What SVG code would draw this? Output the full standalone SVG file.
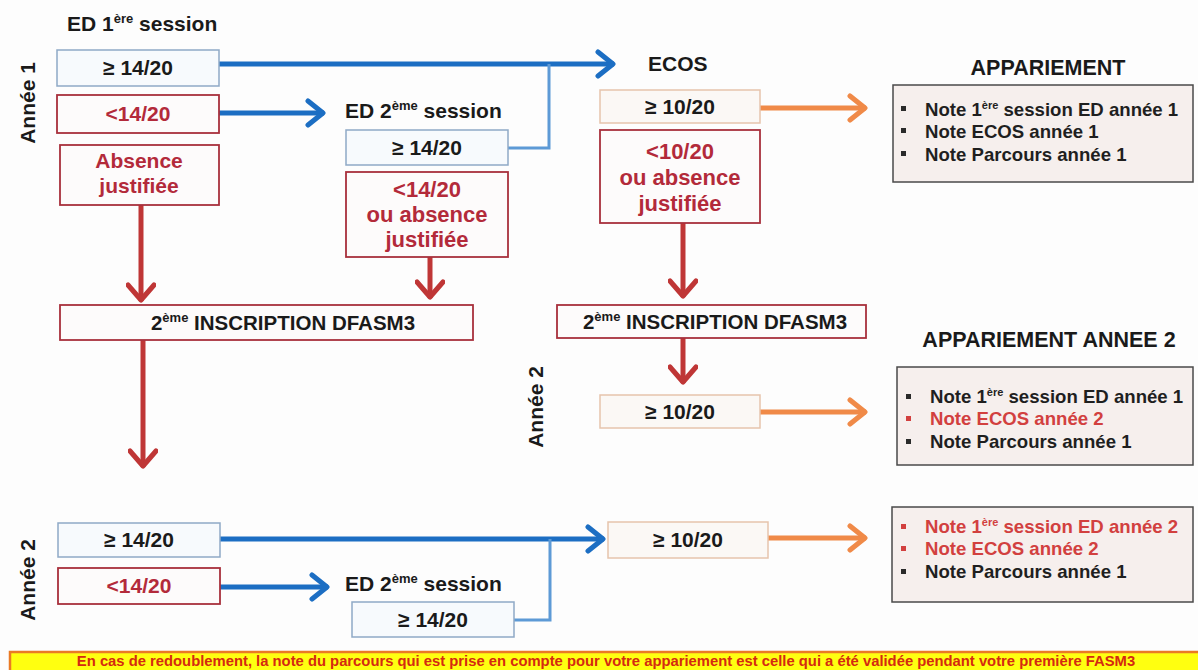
<svg xmlns="http://www.w3.org/2000/svg" width="1198" height="670" viewBox="0 0 1198 670">
<defs>
<style>
text{font-family:"Liberation Sans",Arial,sans-serif;font-weight:bold}
.lbl{font-size:21px;fill:#1a1a1a}
.lblr{font-size:21px;fill:#b32a3a}
.big{font-size:22px}
.ctr{text-anchor:middle}
.bb{fill:#f7fafd;stroke:#8fa9c6;stroke-width:1.5}
.rb{fill:#fdfbfb;stroke:#a8303c;stroke-width:1.8}
.ob{fill:#fbf8f5;stroke:#e6c4ac;stroke-width:1.5}
.ap{fill:#f6efed;stroke:#4a4a4a;stroke-width:1.5}
.note{font-size:18.6px;fill:#1f1f1f}
.noter{font-size:18.6px;fill:#d2403f}
.bul{fill:#2a2a2a}
.bulr{fill:#d2403f}
.blue{stroke:#1c6ec3;stroke-width:5;fill:none}
.lblue{stroke:#5d9ad6;stroke-width:3;fill:none}
.red{stroke:#bf3636;stroke-width:5;fill:none}
.orange{stroke:#f08a48;stroke-width:5;fill:none}
.title{font-size:21.5px;fill:#1a1a1a}
.vert{font-size:21px;fill:#1a1a1a;text-anchor:middle}
.ins{font-size:20.5px;fill:#1a1a1a;text-anchor:middle}
</style>
<marker id="mb" markerUnits="userSpaceOnUse" markerWidth="30" markerHeight="30" refX="22" refY="15" orient="auto" viewBox="0 0 30 30">
<path d="M6,3 L21,15 L6,27" fill="none" stroke="#1c6ec3" stroke-width="5" stroke-linecap="round" stroke-linejoin="round"/>
</marker>
<marker id="mr" markerUnits="userSpaceOnUse" markerWidth="30" markerHeight="30" refX="22" refY="15" orient="auto" viewBox="0 0 30 30">
<path d="M6,2 L21,15 L6,28" fill="none" stroke="#bf3636" stroke-width="5" stroke-linecap="round" stroke-linejoin="round"/>
</marker>
<marker id="mo" markerUnits="userSpaceOnUse" markerWidth="30" markerHeight="30" refX="22" refY="15" orient="auto" viewBox="0 0 30 30">
<path d="M6,3 L21,15 L6,27" fill="none" stroke="#f08a48" stroke-width="5" stroke-linecap="round" stroke-linejoin="round"/>
</marker>
</defs>
<rect x="0" y="0" width="1198" height="670" fill="#fdfdfd"/>

<g id="connectors">
<path class="blue" d="M219,64 L614,64" marker-end="url(#mb)"/>
<path class="blue" d="M219,113 L324,113" marker-end="url(#mb)"/>
<path class="lblue" d="M508,148 L549,148 L549,64"/>
<path class="orange" d="M760,108 L866,108" marker-end="url(#mo)"/>
<path class="red" d="M141,205 L141,301" marker-end="url(#mr)"/>
<path class="red" d="M430,257 L430,298" marker-end="url(#mr)"/>
<path class="red" d="M683,223 L683,297" marker-end="url(#mr)"/>
<path class="red" d="M143,340 L143,467" marker-end="url(#mr)"/>
<path class="red" d="M683,338 L683,383" marker-end="url(#mr)"/>
<path class="orange" d="M760,412 L866,412" marker-end="url(#mo)"/>
<path class="blue" d="M220,539 L604,539" marker-end="url(#mb)"/>
<path class="blue" d="M220,587 L328,587" marker-end="url(#mb)"/>
<path class="lblue" d="M514,620 L550,620 L550,539"/>
<path class="orange" d="M768,538 L866,538" marker-end="url(#mo)"/>
</g>

<g id="annee1">
<text class="vert" transform="translate(35,103) rotate(-90)">Année 1</text>
</g>
<g id="ed1-title">
<text class="lbl" x="67" y="31">ED 1<tspan font-size="13" dy="-8">ère</tspan><tspan dy="8"> session</tspan></text>
</g>
<g id="ed1-ok">
<rect class="bb" x="57" y="50" width="162" height="36"/>
<text class="lbl ctr" x="138" y="75">≥ 14/20</text>
</g>
<g id="ed1-ko">
<rect class="rb" x="57" y="95" width="162" height="38"/>
<text class="lblr ctr" x="138" y="121">&lt;14/20</text>
</g>
<g id="ed1-abs">
<rect class="rb" x="60" y="145" width="159" height="60"/>
<text class="lblr ctr" x="139" y="168">Absence</text>
<text class="lblr ctr" x="139" y="193">justifiée</text>
</g>

<g id="ed2-title">
<text class="lbl" x="345" y="118">ED 2<tspan font-size="13" dy="-8">ème</tspan><tspan dy="8"> session</tspan></text>
</g>
<g id="ed2-ok">
<rect class="bb" x="346" y="130" width="162" height="35"/>
<text class="lbl ctr" x="427" y="155">≥ 14/20</text>
</g>
<g id="ed2-ko">
<rect class="rb" x="346" y="172" width="162" height="85"/>
<text class="lblr big ctr" x="427" y="197">&lt;14/20</text>
<text class="lblr big ctr" x="427" y="222">ou absence</text>
<text class="lblr big ctr" x="427" y="247">justifiée</text>
</g>

<g id="ecos-title">
<text class="lbl" x="648" y="71">ECOS</text>
</g>
<g id="ecos-ok">
<rect class="ob" x="600" y="90" width="160" height="33"/>
<text class="lbl ctr" x="680" y="114">≥ 10/20</text>
</g>
<g id="ecos-ko">
<rect class="rb" x="600" y="130" width="160" height="93"/>
<text class="lblr big ctr" x="680" y="159">&lt;10/20</text>
<text class="lblr big ctr" x="680" y="185">ou absence</text>
<text class="lblr big ctr" x="680" y="211">justifiée</text>
</g>

<g id="appariement1">
<text class="title ctr" x="1048" y="75">APPARIEMENT</text>
<rect class="ap" x="893" y="85" width="300" height="97"/>
<rect class="bul" x="901" y="106" width="5" height="5"/>
<rect class="bul" x="901" y="128" width="5" height="5"/>
<rect class="bul" x="901" y="151" width="5" height="5"/>
<text class="note" x="925" y="116">Note 1<tspan font-size="11" dy="-7">ère</tspan><tspan dy="7"> session ED année 1</tspan></text>
<text class="note" x="925" y="138">Note ECOS année 1</text>
<text class="note" x="925" y="161">Note Parcours année 1</text>
</g>

<g id="inscription-left">
<rect class="rb" x="60" y="305" width="413" height="35"/>
<text class="ins" x="283" y="330">2<tspan font-size="13" dy="-8">ème</tspan><tspan dy="8"> INSCRIPTION DFASM3</tspan></text>
</g>
<g id="inscription-right">
<rect class="rb" x="557" y="305" width="309" height="33"/>
<text class="ins" x="715" y="329">2<tspan font-size="13" dy="-8">ème</tspan><tspan dy="8"> INSCRIPTION DFASM3</tspan></text>
</g>

<g id="annee2-mid">
<text class="vert" transform="translate(543,407) rotate(-90)">Année 2</text>
</g>
<g id="ecos2-ok">
<rect class="ob" x="600" y="395" width="160" height="33"/>
<text class="lbl ctr" x="680" y="419">≥ 10/20</text>
</g>

<g id="appariement2">
<text class="title ctr" x="1049" y="347">APPARIEMENT ANNEE 2</text>
<rect class="ap" x="897" y="367" width="296" height="98"/>
<rect class="bul" x="906" y="394" width="5" height="5"/>
<rect class="bulr" x="906" y="416" width="5" height="5"/>
<rect class="bul" x="906" y="439" width="5" height="5"/>
<text class="note" x="930" y="403">Note 1<tspan font-size="11" dy="-7">ère</tspan><tspan dy="7"> session ED année 1</tspan></text>
<text class="noter" x="930" y="425">Note ECOS année 2</text>
<text class="note" x="930" y="448">Note Parcours année 1</text>
</g>

<g id="annee2-bottom">
<text class="vert" transform="translate(35,580) rotate(-90)">Année 2</text>
</g>
<g id="b-ed1-ok">
<rect class="bb" x="58" y="523" width="162" height="34"/>
<text class="lbl ctr" x="139" y="547">≥ 14/20</text>
</g>
<g id="b-ed1-ko">
<rect class="rb" x="58" y="568" width="162" height="36" stroke-width="1.2"/>
<text class="lblr ctr" x="139" y="593">&lt;14/20</text>
</g>
<g id="b-ed2-title">
<text class="lbl" x="345" y="591">ED 2<tspan font-size="13" dy="-8">ème</tspan><tspan dy="8"> session</tspan></text>
</g>
<g id="b-ed2-ok">
<rect class="bb" x="352" y="602" width="162" height="35"/>
<text class="lbl ctr" x="433" y="627">≥ 14/20</text>
</g>
<g id="b-ecos-ok">
<rect class="ob" x="608" y="522" width="160" height="36"/>
<text class="lbl ctr" x="688" y="547">≥ 10/20</text>
</g>
<g id="appariement3">
<rect class="ap" x="892" y="507" width="301" height="95"/>
<rect class="bulr" x="901" y="524" width="5" height="5"/>
<rect class="bulr" x="901" y="546" width="5" height="5"/>
<rect class="bul" x="901" y="569" width="5" height="5"/>
<text class="noter" x="925" y="533">Note 1<tspan font-size="11" dy="-7">ère</tspan><tspan dy="7"> session ED année 2</tspan></text>
<text class="noter" x="925" y="555">Note ECOS année 2</text>
<text class="note" x="925" y="578">Note Parcours année 1</text>
</g>

<g id="banner">
<rect x="10" y="652" width="1190" height="20" fill="#ffff10" stroke="#ea7a24" stroke-width="2.5"/>
<text x="606" y="666" text-anchor="middle" font-size="14.8" fill="#d42a10">En cas de redoublement, la note du parcours qui est prise en compte pour votre appariement est celle qui a été validée pendant votre première FASM3</text>
</g>
</svg>
